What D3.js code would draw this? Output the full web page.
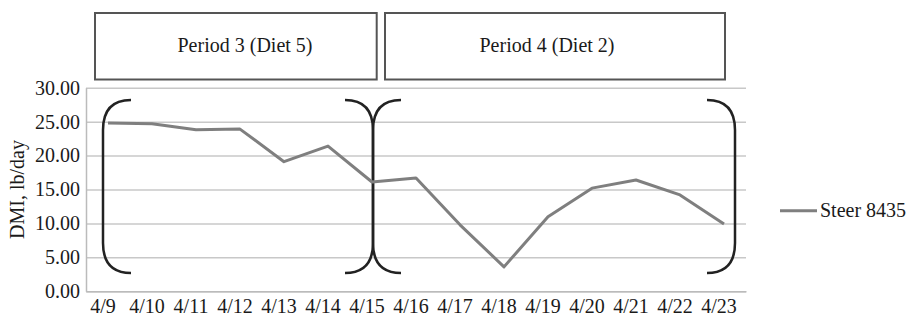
<!DOCTYPE html>
<html>
<head>
<meta charset="utf-8">
<script src="https://cdn.jsdelivr.net/npm/d3@7"></script>
<style>
	body { margin: 0; background: #fff; }
	svg text { font-family: "Liberation Serif", "DejaVu Serif", serif !important; fill: #1a1a1a; }
</style>
</head>
<body>
<div id="chart"></div>
<script>

const dates = ['4/9', '4/10', '4/11', '4/12', '4/13', '4/14', '4/15', '4/16', '4/17', '4/18', '4/19', '4/20', '4/21', '4/22', '4/23'];
const dmi = [24.8, 24.7, 23.8, 23.9, 19.1, 21.4, 16.1, 16.7, 9.8, 3.6, 11.0, 15.2, 16.4, 14.2, 9.9];
const yTicks = [0, 5, 10, 15, 20, 25, 30];
const seriesName = 'Steer 8435';
const yTitle = 'DMI, lb/day';
const periodLabels = ['Period 3 (Diet 5)', 'Period 4 (Diet 2)'];
const periodStart = ['4/9', '4/15'];
const periodEnd = ['4/15', '4/23'];

const serif = '"Liberation Serif", "DejaVu Serif", serif';

class LineChart {

	constructor(options) {
		this.data = options.data;
		this.element = options.element;
		this.draw();
	}

	draw() {

		this.width = 909;
		this.height = 316;
		this.left = 86;
		this.right = 746;
		this.top = 87.7;
		this.bottom = 291.3;

		this.createSVG();
		this.createScales();
		this.createAxes();
		this.createPeriods();
		this.createLine();
		this.createLegend();

	}

	createSVG() {
		this.svg = d3.select(this.element)
			.append('svg')
				.attr('width', this.width)
				.attr('height', this.height)
				.attr('font-family', serif);
	}

	createScales() {

		this.xScale = d3.scaleBand()
			.domain(dates)
			.range([this.left, this.right]);

		this.yScale = d3.scaleLinear()
			.domain([0, 30])
			.range([this.bottom, this.top]);

	}

	cx(d) {
		return this.xScale(d) + this.xScale.bandwidth() / 2;
	}

	createAxes() {

		// gridlines
		const grid = d3.axisLeft(this.yScale)
			.tickValues(yTicks)
			.tickSize(-(this.right - this.left))
			.tickFormat('');

		this.svg.append('g')
			.attr('class', 'grid')
			.attr('transform', `translate(${this.left}, 0)`)
			.call(grid)
			.call(g => g.select('.domain').remove())
			.call(g => g.selectAll('line').attr('stroke', '#c8c8c8').attr('stroke-width', 1.5));

		this.yAxis = d3.axisLeft(this.yScale)
			.tickValues(yTicks)
			.tickSize(0)
			.tickPadding(6)
			.tickFormat(d3.format('.2f'));

		this.svg.append('g')
			.attr('class', 'yAxis')
			.attr('transform', `translate(${this.left}, 0)`)
			.call(this.yAxis)
			.attr('font-family', serif)
			.attr('font-size', 20)
			.call(g => g.select('.domain').attr('stroke', '#bbb').attr('stroke-width', 1.5));

		this.xAxis = d3.axisBottom(this.xScale)
			.tickSize(0)
			.tickPadding(8);

		this.svg.append('g')
			.attr('class', 'xAxis')
			.attr('transform', `translate(0, ${this.bottom})`)
			.call(this.xAxis)
			.attr('font-family', serif)
			.attr('font-size', 20)
			.call(g => g.select('.domain').attr('stroke', '#bbb').attr('stroke-width', 1.5))
			.call(g => g.selectAll('text').attr('dx', -5));

		this.svg.append('text')
			.attr('transform', `translate(24, ${(this.top + this.bottom) / 2}) rotate(-90)`)
			.attr('text-anchor', 'middle')
			.attr('font-size', 20)
			.text(yTitle);

	}

	bracket(x, dir, top, bot) {
		const w = 28 * dir, r = 30;
		return `M${x + w},${top} Q${x},${top} ${x},${top + r} L${x},${bot - r} Q${x},${bot} ${x + w},${bot}`;
	}

	createPeriods() {

		const top = 100, bot = 273;
		const g = this.svg.append('g').attr('class', 'periods');

		const lefts = [this.cx(periodStart[0]) - 5, this.cx(periodStart[1]) + 1];
		const rights = [this.cx(periodEnd[0]) + 1, this.cx(periodEnd[1]) + 11];
		const boxL = [this.cx(periodStart[0]) - 13, this.cx(periodStart[1]) + 13];
		const boxR = [this.cx(periodEnd[0]) + 4.7, this.cx(periodEnd[1]) + 1];
		const textX = [245, 547];

		periodLabels.forEach((label, i) => {

			g.append('path')
				.attr('d', this.bracket(lefts[i], 1, top, bot))
				.attr('fill', 'none')
				.attr('stroke', '#222')
				.attr('stroke-width', 2.5);

			g.append('path')
				.attr('d', this.bracket(rights[i], -1, top, bot))
				.attr('fill', 'none')
				.attr('stroke', '#222')
				.attr('stroke-width', 2.5);

			g.append('rect')
				.attr('x', boxL[i])
				.attr('y', 13)
				.attr('width', boxR[i] - boxL[i])
				.attr('height', 66.5)
				.attr('fill', '#fff')
				.attr('stroke', '#555')
				.attr('stroke-width', 2);

			g.append('text')
				.attr('x', textX[i])
				.attr('y', 52)
				.attr('text-anchor', 'middle')
				.attr('font-size', 20)
				.text(label);

		});

	}

	createLine() {

		const line = d3.line()
			.x((d, i) => this.cx(dates[i]))
			.y(d => this.yScale(d));

		this.svg.append('path')
			.datum(this.data)
			.attr('d', line)
			.attr('fill', 'none')
			.attr('stroke', '#7f7f7f')
			.attr('stroke-width', 3)
			.attr('stroke-linejoin', 'round');

	}

	createLegend() {

		const g = this.svg.append('g').attr('class', 'legend');

		g.append('line')
			.attr('x1', 780)
			.attr('x2', 817)
			.attr('y1', 210.7)
			.attr('y2', 210.7)
			.attr('stroke', '#7f7f7f')
			.attr('stroke-width', 3);

		g.append('text')
			.attr('x', 820)
			.attr('y', 217)
			.attr('font-size', 20)
			.text(seriesName);

	}

}

new LineChart({ data: dmi, element: '#chart' });

</script>
</body>
</html>
